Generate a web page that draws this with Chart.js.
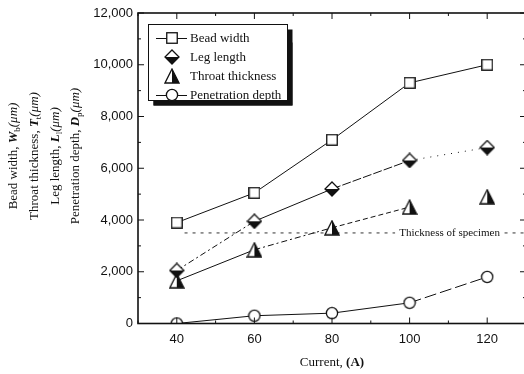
<!DOCTYPE html>
<html>
<head>
<meta charset="utf-8">
<script src="https://cdn.jsdelivr.net/npm/chart.js@4/dist/chart.umd.min.js"></script>
<style>
  html, body { margin: 0; padding: 0; background: #fff; overflow: hidden; }
  #chart { display: block; }
</style>
</head>
<body>
<canvas id="chart" width="534" height="374"></canvas>
<script>
// 溶接電流と各寸法
const currents = [40, 60, 80, 100, 120];
const beadWidth = [3900, 5050, 7100, 9300, 10000];
const legLength = [2050, 3950, 5200, 6300, 6800];
const throatThickness = [1650, 2850, 3700, 4500, 4900];
const penetrationDepth = [0, 300, 400, 800, 1800];

// 試験片の厚さ (基準線)
const specimenThickness = 3500;
const specimenRange = [42, 130];
const specimenLabel = 'Thickness of specimen';
const specimenLabelAt = 110.3;

// 軸目盛
const xTicks = [40, 60, 80, 100, 120];
const yTicks = [0, 2000, 4000, 6000, 8000, 10000, 12000];

const legendLabels = ['Bead width', 'Leg length', 'Throat thickness', 'Penetration depth'];

const SERIF = '"Liberation Serif", "Times New Roman", serif';
const SANS = '"Liberation Sans", Arial, sans-serif';
const INK = '#111';

/**
 * マーカー画像を作る (半塗りの菱形・三角形は標準のpointStyleに無いため)
 */
function makeMarker(kind) {
  const c = document.createElement('canvas');
  const g = c.getContext('2d');
  g.lineWidth = 1.3;
  g.strokeStyle = INK;
  g.fillStyle = '#fff';
  if (kind === 'square') {
    c.width = c.height = 12;
    g.lineWidth = 1.3;
    g.fillStyle = '#fff';
    g.strokeStyle = INK;
    g.fillRect(0.75, 0.75, 10.5, 10.5);
    g.strokeRect(0.75, 0.75, 10.5, 10.5);
  } else if (kind === 'circle') {
    c.width = c.height = 14;
    g.lineWidth = 1.3;
    g.strokeStyle = INK;
    g.fillStyle = '#fff';
    g.beginPath();
    g.arc(7, 7, 5.6, 0, Math.PI * 2);
    g.fill();
    g.stroke();
  } else if (kind === 'diamond') {
    c.width = c.height = 16;
    g.lineWidth = 1.3;
    g.strokeStyle = INK;
    g.fillStyle = '#fff';
    g.beginPath();
    g.moveTo(8, 1); g.lineTo(15, 8); g.lineTo(8, 15); g.lineTo(1, 8); g.closePath();
    g.fill();
    // 下半分を黒
    g.fillStyle = INK;
    g.beginPath();
    g.moveTo(1, 8); g.lineTo(15, 8); g.lineTo(8, 15); g.closePath();
    g.fill();
    g.beginPath();
    g.moveTo(8, 1); g.lineTo(15, 8); g.lineTo(8, 15); g.lineTo(1, 8); g.closePath();
    g.stroke();
  } else if (kind === 'triangle') {
    c.width = c.height = 16;
    g.lineWidth = 1.3;
    g.strokeStyle = INK;
    g.fillStyle = '#fff';
    g.beginPath();
    g.moveTo(8, 1); g.lineTo(15, 15); g.lineTo(1, 15); g.closePath();
    g.fill();
    // 右半分を黒
    g.fillStyle = INK;
    g.beginPath();
    g.moveTo(8, 1); g.lineTo(15, 15); g.lineTo(8, 15); g.closePath();
    g.fill();
    g.beginPath();
    g.moveTo(8, 1); g.lineTo(15, 15); g.lineTo(1, 15); g.closePath();
    g.stroke();
  }
  return c;
}

const markers = {
  square: makeMarker('square'),
  diamond: makeMarker('diamond'),
  triangle: makeMarker('triangle'),
  circle: makeMarker('circle'),
};

const toPoints = (ys) => currents.map((x, i) => ({ x, y: ys[i] }));

// 区間ごとの線種 (null = 実線, 'none' = 線なし)
function segmentDash(patterns) {
  return {
    borderDash: (ctx) => {
      const p = patterns[ctx.p0DataIndex];
      return p && p !== 'none' ? p : [];
    },
    borderColor: (ctx) => (patterns[ctx.p0DataIndex] === 'none' ? 'rgba(0,0,0,0)' : INK),
  };
}

function seriesDataset(label, ys, marker, patterns) {
  return {
    label,
    data: toPoints(ys),
    borderColor: INK,
    borderWidth: 1,
    pointStyle: marker,
    pointRadius: 7,
    pointHoverRadius: 7,
    tension: 0,
    clip: 0,
    segment: segmentDash(patterns),
  };
}

/**
 * 枠線と内向きの目盛線
 */
const framePlugin = {
  id: 'frame',
  afterDraw(chart) {
    const { ctx, chartArea: a, scales: { x, y } } = chart;
    ctx.save();
    ctx.strokeStyle = INK;
    ctx.lineWidth = 1;
    ctx.beginPath();
    for (let v = 0; v <= 12000; v += 1000) {
      const py = y.getPixelForValue(v);
      const len = v % 2000 === 0 ? 6 : 3;
      ctx.moveTo(a.left, py); ctx.lineTo(a.left + len, py);
      ctx.moveTo(a.right, py); ctx.lineTo(a.right - len, py);
    }
    for (let v = 30; v <= 130; v += 10) {
      const px = x.getPixelForValue(v);
      const len = v % 20 === 0 ? 6 : 3;
      ctx.moveTo(px, a.bottom); ctx.lineTo(px, a.bottom - len);
      ctx.moveTo(px, a.top); ctx.lineTo(px, a.top + len);
    }
    ctx.stroke();
    ctx.lineWidth = 1.6;
    ctx.strokeRect(a.left, a.top, a.right - a.left, a.bottom - a.top);
    ctx.restore();
  },
};

/**
 * 基準線のラベル
 */
const specimenPlugin = {
  id: 'specimenLabel',
  afterDatasetsDraw(chart) {
    const { ctx, scales: { x, y } } = chart;
    const px = x.getPixelForValue(specimenLabelAt);
    const py = y.getPixelForValue(specimenThickness);
    ctx.save();
    ctx.font = '11px ' + SERIF;
    const w = ctx.measureText(specimenLabel).width;
    ctx.fillStyle = '#fff';
    ctx.fillRect(px - w / 2 - 4, py - 6, w + 8, 12);
    ctx.fillStyle = INK;
    ctx.textAlign = 'center';
    ctx.textBaseline = 'middle';
    ctx.fillText(specimenLabel, px, py + 0.5);
    ctx.restore();
  },
};

/**
 * 凡例 (影付きの枠、線とマーカー)
 */
const legendPlugin = {
  id: 'boxLegend',
  afterDatasetsDraw(chart) {
    const { ctx } = chart;
    const bx = 148.5, by = 24.5, bw = 139, bh = 76;
    ctx.save();
    ctx.fillStyle = INK;
    ctx.fillRect(bx + 5, by + 18, bw, bh - 13);
    ctx.fillRect(bx + 5, by + 5, bw, bh);
    ctx.fillStyle = '#fff';
    ctx.fillRect(bx, by, bw, bh);
    ctx.strokeStyle = INK;
    ctx.lineWidth = 1;
    ctx.strokeRect(bx, by, bw, bh);

    const rows = [38, 57, 76, 95];
    const marks = [markers.square, markers.diamond, markers.triangle, markers.circle];
    const withLine = [true, false, false, true];
    ctx.font = '13px ' + SERIF;
    ctx.textBaseline = 'middle';
    legendLabels.forEach((label, i) => {
      const yy = rows[i];
      if (withLine[i]) {
        ctx.beginPath();
        ctx.moveTo(156, yy + 0.5); ctx.lineTo(187, yy + 0.5);
        ctx.stroke();
      }
      const m = marks[i];
      ctx.drawImage(m, 172 - m.width / 2, yy - m.height / 2);
      ctx.fillStyle = INK;
      ctx.fillText(label, 190, yy + 1);
    });
    ctx.restore();
  },
};

/**
 * 軸タイトル (斜体・太字・下付きが混在するため手描き)
 */
function drawRuns(ctx, runs, cx, cy) {
  let total = 0;
  runs.forEach(r => { ctx.font = r.font; r.w = ctx.measureText(r.t).width; total += r.w; });
  let pos = cx - total / 2;
  runs.forEach(r => {
    ctx.font = r.font;
    ctx.fillText(r.t, pos, cy + (r.dy || 0));
    pos += r.w;
  });
}

const titlePlugin = {
  id: 'axisTitles',
  afterDraw(chart) {
    const { ctx } = chart;
    const reg = '13px ' + SERIF;
    const bi = 'italic bold 13px ' + SERIF;
    const it = 'italic 13px ' + SERIF;
    const sub = '9px ' + SERIF;
    const lines = [
      ['Bead width, ', 'W', 'b'],
      ['Throat thickness, ', 'T', 't'],
      ['Leg length, ', 'L', 'l'],
      ['Penetration depth, ', 'D', 'p'],
    ];
    const cols = [14, 35, 55.5, 76];
    ctx.save();
    ctx.fillStyle = INK;
    ctx.textBaseline = 'middle';
    lines.forEach((ln, i) => {
      ctx.save();
      ctx.translate(cols[i], 156);
      ctx.rotate(-Math.PI / 2);
      drawRuns(ctx, [
        { t: ln[0], font: reg },
        { t: ln[1], font: bi },
        { t: ln[2], font: sub, dy: 4 },
        { t: '(\u03BCm)', font: it },
      ], 0, 0);
      ctx.restore();
    });
    drawRuns(ctx, [
      { t: 'Current, ', font: reg },
      { t: '(A)', font: 'bold 13px ' + SERIF },
    ], 332, 363);
    ctx.restore();
  },
};

new Chart(document.getElementById('chart'), {
  type: 'line',
  data: {
    datasets: [
      seriesDataset('Bead width', beadWidth, markers.square, [null, null, null, null]),
      seriesDataset('Leg length', legLength, markers.diamond, [[6, 3, 2, 3], null, [9, 2], [1, 6]]),
      seriesDataset('Throat thickness', throatThickness, markers.triangle, [null, [6, 3, 2, 3], [5, 3], 'none']),
      seriesDataset('Penetration depth', penetrationDepth, markers.circle, [null, null, null, [12, 4]]),
      {
        label: specimenLabel,
        data: specimenRange.map(x => ({ x, y: specimenThickness })),
        borderColor: '#333',
        borderWidth: 1,
        borderDash: [3, 5],
        pointRadius: 0,
        clip: 0,
      },
    ],
  },
  options: {
    responsive: false,
    animation: false,
    events: [],
    layout: { padding: { left: 0, right: 7, top: 13, bottom: 0 } },
    plugins: {
      legend: { display: false },
      tooltip: { enabled: false },
      title: { display: false },
    },
    scales: {
      x: {
        type: 'linear',
        min: 30,
        max: 130,
        grid: { display: false, drawTicks: false },
        border: { display: false },
        afterBuildTicks: (s) => { s.ticks = xTicks.map(v => ({ value: v })); },
        afterFit: (s) => { s.height = 50.5; },
        ticks: {
          padding: 8,
          color: INK,
          font: { family: SANS, size: 13 },
          maxRotation: 0,
        },
      },
      y: {
        type: 'linear',
        min: 0,
        max: 12000,
        grid: { display: false, drawTicks: false },
        border: { display: false },
        afterBuildTicks: (s) => { s.ticks = yTicks.map(v => ({ value: v })); },
        afterFit: (s) => { s.width = 138; },
        ticks: {
          padding: 5,
          color: INK,
          font: { family: SANS, size: 13 },
          callback: (v) => v.toLocaleString('en-US'),
        },
      },
    },
  },
  plugins: [specimenPlugin, legendPlugin, framePlugin, titlePlugin],
});
</script>
</body>
</html>
